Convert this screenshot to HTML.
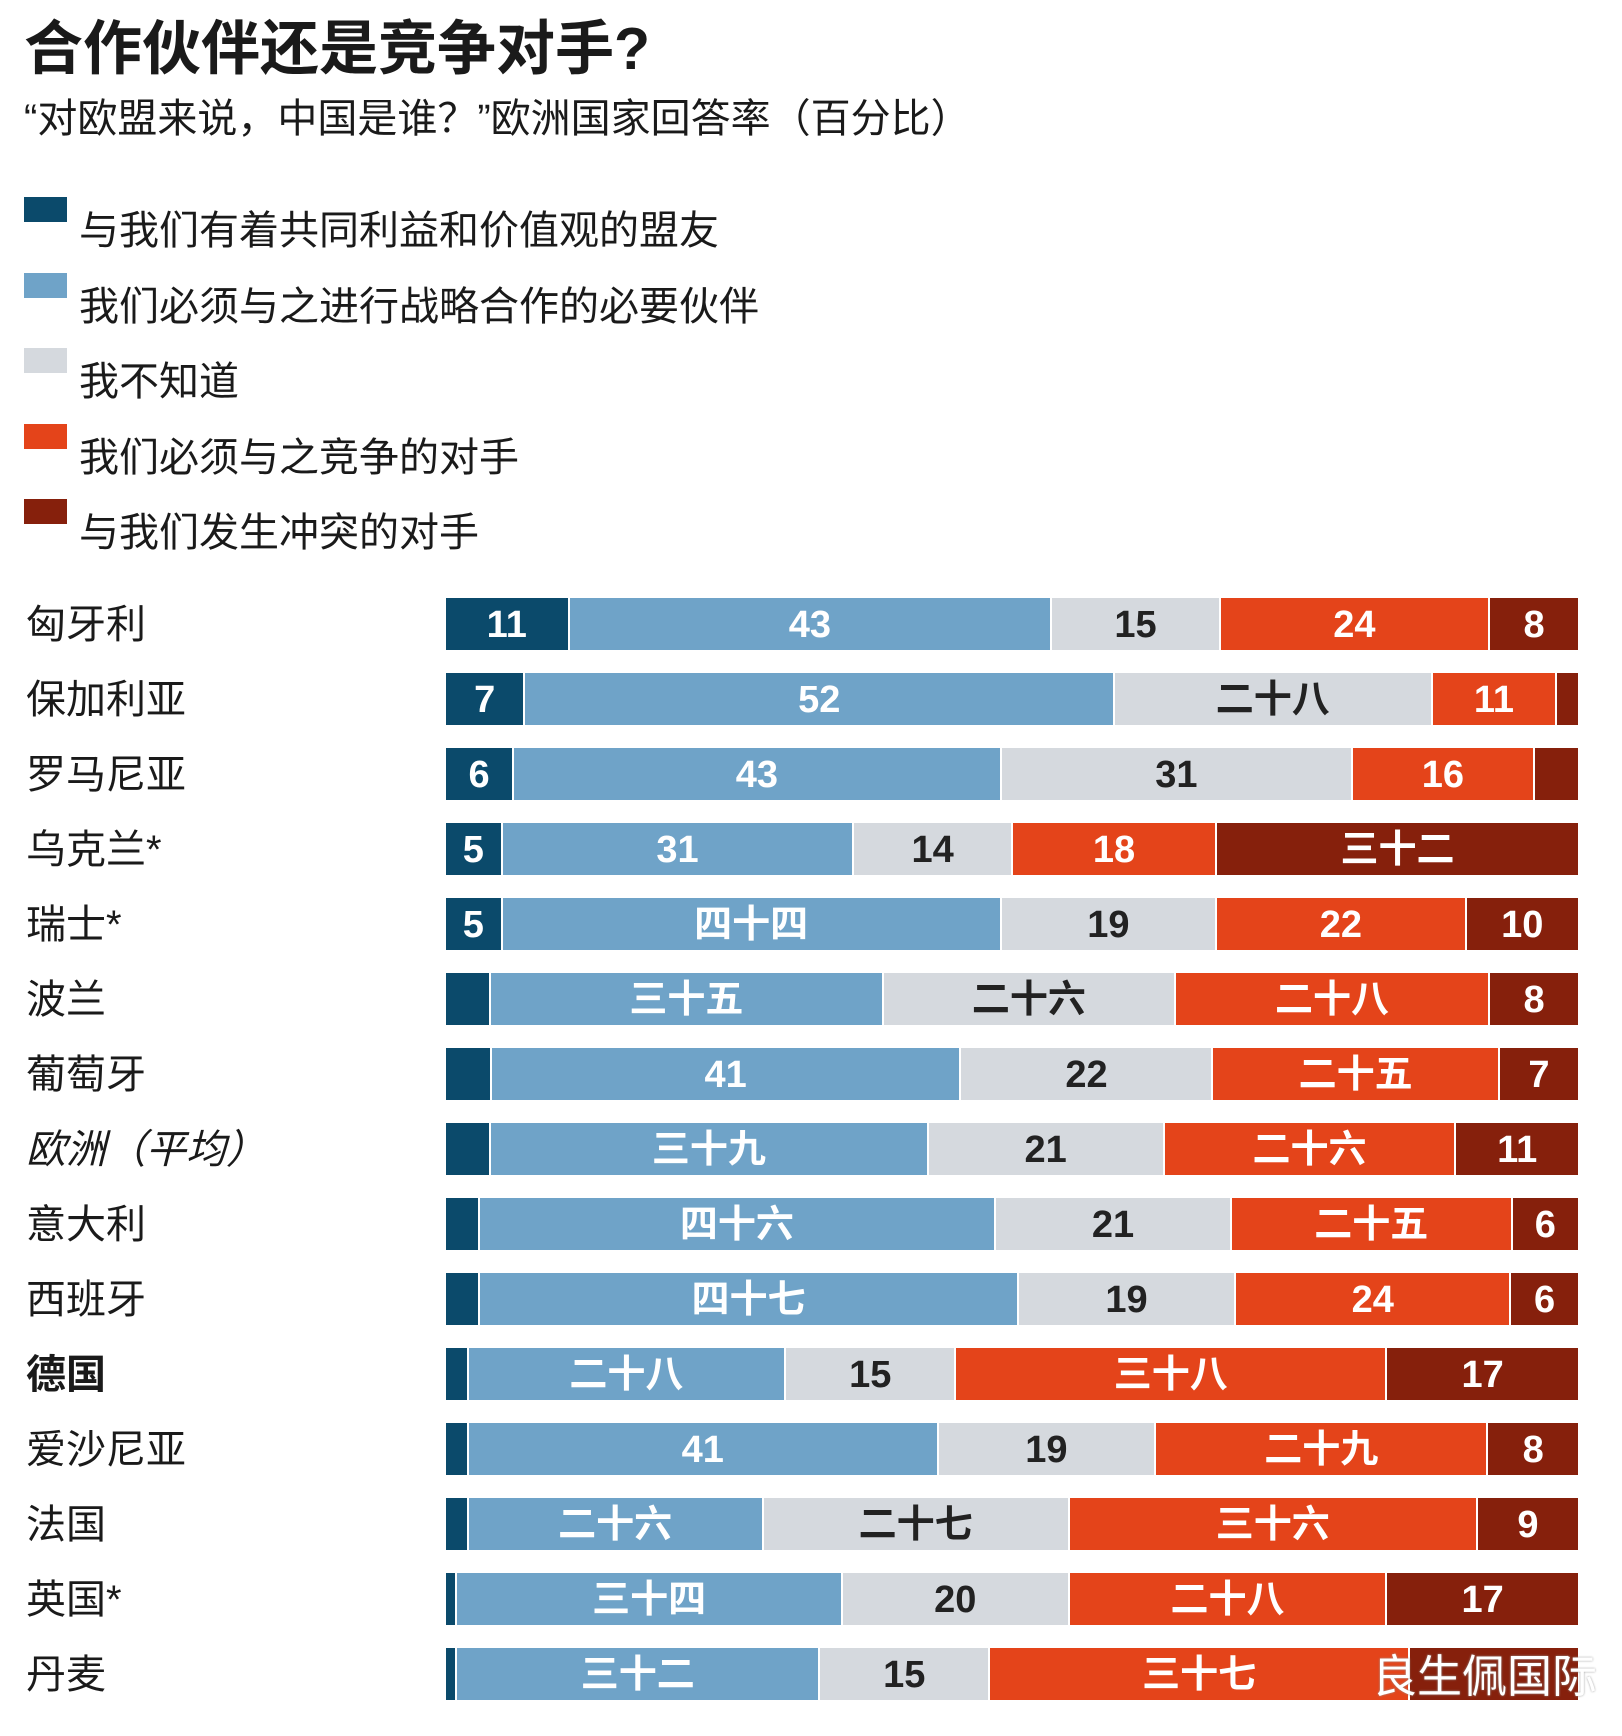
<!DOCTYPE html>
<html><head><meta charset="utf-8">
<style>
body{margin:0;width:1622px;height:1736px;background:#fff;position:relative;overflow:hidden;font-family:"Liberation Sans","Noto Sans CJK SC",sans-serif;color:#1a1a1a}
.abs{position:absolute;white-space:nowrap}
</style></head><body>
<div class="abs" style="left:24px;top:16px;font-size:59px;font-weight:bold;line-height:66px">合作伙伴还是竞争对手?</div>
<div class="abs" style="left:24px;top:95px;font-size:40px;line-height:48px">“对欧盟来说，中国是谁？”欧洲国家回答率（百分比）</div>
<div id="legend"></div>
<div id="chart"></div>
<div class="abs" style="left:1372px;top:1652px;font-size:45px;color:#fff;text-shadow:0 0 2px #999;line-height:50px">良生佩国际</div>
<script>
const colors=["#0b4a6b","#6fa3c8","#d5d9de","#e4441a","#86200c"];
const textColors=["#fff","#fff","#222","#fff","#fff"];
const seriesNames=["与我们有着共同利益和价值观的盟友","我们必须与之进行战略合作的必要伙伴","我不知道","我们必须与之竞争的对手","与我们发生冲突的对手"];
const countries=["匈牙利","保加利亚","罗马尼亚","乌克兰*","瑞士*","波兰","葡萄牙","欧洲（平均）","意大利","西班牙","德国","爱沙尼亚","法国","英国*","丹麦"];
const allies=[11,7,6,5,5,4,4,4,3,3,2,2,2,1,1];
const partners=[43,52,43,31,44,35,41,39,46,47,28,41,26,34,32];
const dontKnow=[15,28,31,14,19,26,22,21,21,19,15,19,27,20,15];
const competitors=[24,11,16,18,22,28,25,26,25,24,38,29,36,28,37];
const rivals=[8,2,4,32,10,8,7,11,6,6,17,8,9,17,15];
const labels=[
["11","43","15","24","8"],["7","52","二十八","11",""],["6","43","31","16",""],["5","31","14","18","三十二"],
["5","四十四","19","22","10"],["","三十五","二十六","二十八","8"],["","41","22","二十五","7"],["","三十九","21","二十六","11"],
["","四十六","21","二十五","6"],["","四十七","19","24","6"],["","二十八","15","三十八","17"],["","41","19","二十九","8"],
["","二十六","二十七","三十六","9"],["","三十四","20","二十八","17"],["","三十二","15","三十七",""]];
const X0=446,X1=1580,Y0=624,DY=75,BH=52;
const lg=document.getElementById('legend');
seriesNames.forEach((n,i)=>{
  const s=document.createElement('div');s.className='abs';
  s.style.cssText=`left:24px;top:${197+i*75.5}px;width:43px;height:25px;background:${colors[i]}`;
  
  
  lg.appendChild(s);
  const t=document.createElement('div');t.className='abs';
  t.style.cssText=`left:79px;top:${208+i*75.5}px;font-size:40px;line-height:46px`;
  t.textContent=n;
  
  
  lg.appendChild(t);
});
const ch=document.getElementById('chart');
const series=[allies,partners,dontKnow,competitors,rivals];
countries.forEach((c,r)=>{
  const cy=Y0+r*DY;
  const l=document.createElement('div');l.className='abs';
  l.style.cssText=`left:26px;top:${cy-23}px;font-size:40px;line-height:48px;${r==10?'font-weight:bold;':''}${r==7?'font-style:italic;':''}`;
  l.textContent=c;
  
  
  ch.appendChild(l);
  const tot=series.reduce((a,s)=>a+s[r],0);
  let acc=0;
  series.forEach((s,i)=>{
    const x=X0+(X1-X0)*acc/tot;acc+=s[r];
    const w=(X1-X0)*s[r]/tot;
    const b=document.createElement('div');b.className='abs';
    b.style.cssText=`left:${x}px;top:${cy-BH/2}px;width:${Math.max(w-2,0)}px;height:${BH}px;background:${colors[i]};color:${textColors[i]};font-size:38px;font-weight:bold;line-height:${BH+2}px;text-align:center;overflow:visible`;
    b.textContent=labels[r][i];
    
    
    ch.appendChild(b);
  });
});
</script>
</body></html>
